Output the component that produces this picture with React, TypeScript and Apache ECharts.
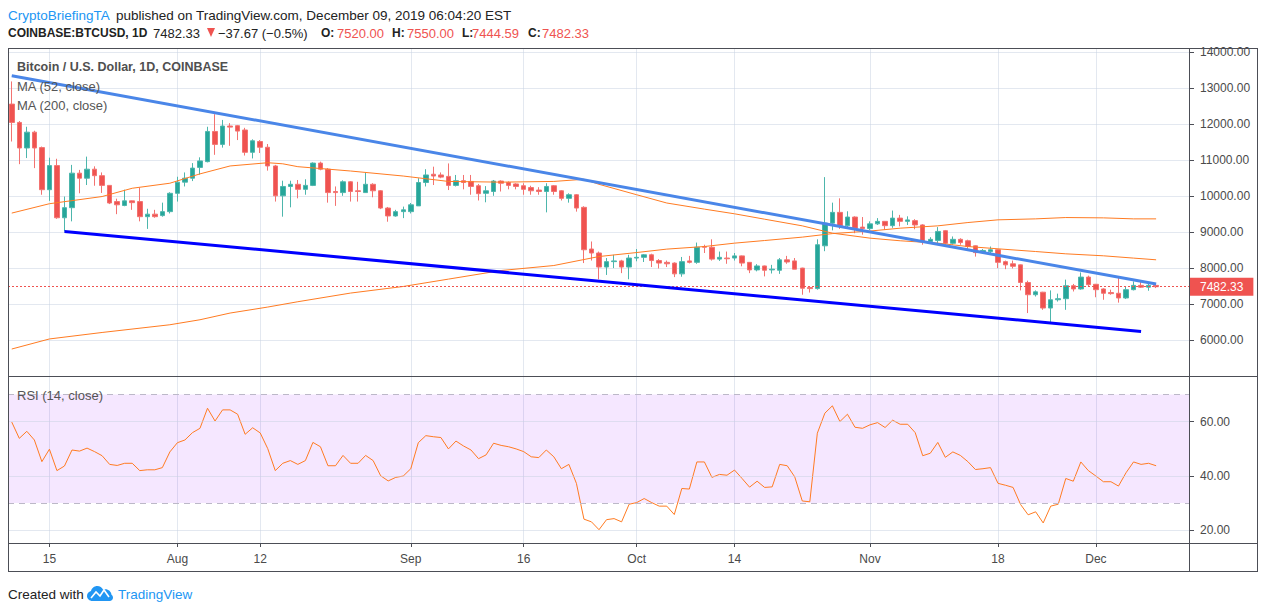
import React, { useEffect, useRef } from 'react';
import * as echarts from 'echarts';

// ---------- categories (daily slots, Jul 10 2019 .. Dec 13 2019; last 4 empty) ----------
const DAY = 86400000;
const START = Date.UTC(2019, 6, 10);
const SLOT_COUNT = 157;
const pad = (n: number) => (n < 10 ? '0' + n : '' + n);
const categories: string[] = Array.from({ length: SLOT_COUNT }, (_, i) => {
  const d = new Date(START + i * DAY);
  return `${d.getUTCFullYear()}-${pad(d.getUTCMonth() + 1)}-${pad(d.getUTCDate())}`;
});

// ---------- time-axis tick labels ----------
const tickDates = ['2019-07-15', '2019-08-01', '2019-08-12', '2019-09-01', '2019-09-16', '2019-10-01', '2019-10-14', '2019-11-01', '2019-11-18', '2019-12-01'];
const tickLabels = ['15', 'Aug', '12', 'Sep', '16', 'Oct', '14', 'Nov', '18', 'Dec'];

// ---------- OHLC ----------
const opens = [
  12560, 12050, 11340, 11780, 11350, 10180, 10850, 9400, 9680, 10640,
  10500, 10750, 10570, 10300, 9850, 9740, 9870, 9850, 9430, 9500,
  9460, 9570, 10080, 10390, 10500, 10800, 10960, 11800, 11440, 11950,
  11960, 11840, 11220, 11520, 11360, 10840, 10010, 10270, 10330, 10190,
  10300, 10920, 10750, 10130, 10100, 10400, 10150, 10100, 10330, 10150,
  9670, 9450, 9570, 9570, 9730, 10380, 10610, 10590, 10550, 10300,
  10430, 10410, 10290, 10080, 10130, 10420, 10380, 10340, 10290, 10240,
  10170, 10130, 10290, 10150, 9940, 10040, 9690, 8530, 8420, 8030,
  8180, 8200, 8030, 8280, 8300, 8370, 8210, 8160, 8140, 7840,
  8200, 8160, 8600, 8580, 8250, 8280, 8280, 8340, 8160, 7950,
  8060, 7950, 7940, 8230, 8200, 8000, 7460, 7430, 8620, 9250,
  9550, 9180, 9420, 9140, 9100, 9230, 9300, 9180, 9390, 9300,
  9320, 9200, 8740, 8770, 9040, 8690, 8800, 8760, 8620, 8430,
  8460, 8510, 8180, 8120, 8090, 7600, 7260, 7330, 6890, 7120,
  7150, 7510, 7420, 7750, 7550, 7420, 7320, 7300, 7170, 7400,
  7520, 7470, 7520,
];
const closes = [
  12050, 11340, 11780, 11340, 10180, 10850, 9400, 9680, 10640, 10500,
  10750, 10570, 10300, 9810, 9760, 9870, 9820, 9430, 9500, 9430,
  9570, 10080, 10390, 10500, 10780, 10980, 11800, 11440, 11950, 11920,
  11810, 11220, 11540, 11360, 10840, 10010, 10270, 10330, 10190, 10300,
  10920, 10750, 10100, 10100, 10400, 10130, 10130, 10330, 10150, 9670,
  9450, 9570, 9620, 9760, 10380, 10590, 10560, 10530, 10300, 10430,
  10380, 10270, 10070, 10150, 10420, 10360, 10300, 10270, 10190, 10150,
  10130, 10270, 10130, 9940, 10040, 9670, 8510, 8420, 8030, 8180,
  8200, 8030, 8280, 8300, 8370, 8210, 8140, 8120, 7840, 8180,
  8160, 8580, 8580, 8250, 8300, 8260, 8340, 8140, 7950, 8060,
  7940, 7970, 8230, 8170, 7970, 7440, 7430, 8650, 9250, 9550,
  9180, 9420, 9110, 9100, 9230, 9300, 9180, 9390, 9300, 9340,
  9200, 8740, 8800, 9020, 8690, 8800, 8710, 8600, 8430, 8490,
  8510, 8160, 8090, 8050, 7600, 7260, 7340, 6890, 7120, 7150,
  7510, 7420, 7750, 7540, 7400, 7300, 7290, 7170, 7400, 7520,
  7470, 7520, 7482.33,
];
const lows = [
  11520, 10890, 11060, 10780, 10040, 9870, 9370, 9020, 9300, 10080,
  10310, 10290, 10090, 9780, 9500, 9720, 9620, 9300, 9090, 9400,
  9430, 9520, 9850, 10270, 10420, 10600, 10940, 11150, 11350, 11400,
  11560, 11130, 11050, 11200, 10710, 9850, 9430, 9690, 9940, 10040,
  10280, 10720, 9820, 9730, 10010, 9850, 9850, 10090, 9970, 9640,
  9290, 9430, 9390, 9520, 9730, 10270, 10310, 10500, 10170, 10270,
  10190, 10040, 9880, 9830, 10010, 10130, 10190, 10190, 10040, 10040,
  10040, 9550, 10040, 9880, 9820, 9570, 8140, 8210, 7690, 7810,
  8000, 7860, 7690, 8190, 8170, 8030, 7990, 8030, 7750, 7760,
  8130, 8120, 8420, 8210, 8200, 8120, 8210, 8050, 7860, 7910,
  7770, 7850, 7840, 8120, 7970, 7260, 7320, 7400, 8470, 9050,
  9090, 9130, 8970, 8930, 9060, 9200, 9070, 9120, 9160, 9200,
  9080, 8650, 8700, 8700, 8610, 8650, 8650, 8530, 8320, 8400,
  8420, 8000, 7970, 7990, 7380, 6750, 7210, 6840, 6490, 7070,
  6840, 7350, 7400, 7490, 7190, 7120, 7260, 7040, 7140, 7380,
  7450, 7370, 7444.59,
];
const highs = [
  13190, 12090, 11930, 11820, 11380, 11070, 11040, 9990, 10870, 10730,
  11100, 10830, 10660, 10310, 9930, 10180, 9880, 10240, 9650, 9620,
  9820, 10110, 10540, 10660, 10920, 11080, 11930, 12280, 12120, 12030,
  11980, 11900, 11580, 11560, 11450, 10870, 10430, 10430, 10450, 10470,
  10940, 10960, 10780, 10270, 10440, 10420, 10400, 10660, 10360, 10170,
  9700, 9620, 9710, 9810, 10500, 10750, 10820, 10660, 10910, 10590,
  10590, 10590, 10340, 10280, 10450, 10440, 10410, 10360, 10360, 10290,
  10250, 10360, 10310, 10170, 10080, 10060, 9720, 8740, 8460, 8280,
  8370, 8230, 8370, 8530, 8390, 8400, 8250, 8210, 8160, 8310,
  8340, 8710, 8650, 8800, 8460, 8460, 8420, 8350, 8170, 8110,
  8070, 8090, 8280, 8340, 8280, 8010, 7490, 8800, 10530, 9820,
  9940, 9580, 9440, 9420, 9300, 9390, 9310, 9600, 9480, 9440,
  9360, 9220, 8860, 9140, 9060, 8880, 8830, 8790, 8630, 8530,
  8600, 8520, 8210, 8210, 8100, 7650, 7380, 7340, 7380, 7290,
  7680, 7560, 7880, 7790, 7560, 7440, 7400, 7770, 7490, 7630,
  7660, 7580, 7550,
];

// ---------- moving averages, read at sample days [dayIndex, value] ----------
const ma52Points = [
  [0, 9530], [5, 9790], [12, 9990], [16, 10220], [21, 10360], [25, 10620], [29, 10840],
  [34, 10930], [36, 10900], [38, 10820], [45, 10700], [52, 10560], [58, 10410], [65, 10390],
  [72, 10410], [76, 10470], [78, 10330], [83, 10040], [87, 9810], [92, 9640], [96, 9510],
  [100, 9360], [105, 9175], [109, 8972], [114, 8833], [118, 8760], [123, 8694], [127, 8600],
  [131, 8536], [136, 8461], [140, 8397], [145, 8342], [149, 8278], [152, 8231],
];
const ma200Points = [
  [0, 5750], [5, 6030], [12, 6210], [21, 6425], [25, 6564], [29, 6750], [34, 6917],
  [38, 7065], [45, 7306], [52, 7489], [58, 7694], [65, 7933], [72, 8072], [78, 8322],
  [83, 8433], [87, 8528], [92, 8600], [96, 8694], [100, 8767], [105, 8861], [109, 8960],
  [114, 9030], [118, 9110], [123, 9175], [127, 9267], [131, 9342], [136, 9369], [140, 9406],
  [145, 9397], [149, 9369], [152, 9369],
];

// ---------- drawn trend lines [dayIndex, price] ----------
const upperTrend = [[0, 13350], [152, 7556]];
const lowerTrend = [[7, 9017], [150, 6239]];

// ---------- RSI(14) ----------
const rsiValues = [
  59.8, 53.8, 56.4, 53.2, 45.2, 49.8, 41.9, 43.6, 49.5, 49.1,
  50.2, 48.9, 47.4, 44.2, 43.8, 44.6, 44.6, 41.9, 42.2, 42.2,
  43.0, 48.8, 52.2, 53.2, 55.9, 57.5, 64.9, 60.2, 64.3, 64.3,
  62.7, 55.3, 57.7, 55.8, 50.0, 41.9, 44.6, 45.6, 44.2, 45.6,
  52.3, 50.7, 43.7, 43.7, 47.5, 44.6, 44.6, 47.5, 45.6, 40.0,
  38.1, 39.4, 39.9, 42.6, 52.2, 54.8, 54.4, 54.1, 49.9, 52.8,
  51.0, 49.5, 46.3, 47.7, 52.0, 51.2, 50.7, 49.9, 48.9, 47.0,
  46.7, 49.5, 47.0, 42.6, 44.2, 37.2, 24.0, 23.0, 20.1, 23.8,
  24.2, 23.0, 29.5, 30.1, 31.6, 30.1, 28.8, 28.8, 25.7, 35.3,
  35.1, 45.1, 45.1, 39.4, 40.5, 40.2, 42.1, 39.0, 35.8, 38.0,
  35.7, 35.9, 44.2, 43.7, 39.6, 30.7, 30.4, 55.7, 63.1, 65.8,
  60.0, 62.7, 57.9, 57.5, 58.8, 59.6, 57.8, 60.5, 59.0, 59.0,
  55.9, 47.4, 48.3, 52.3, 46.8, 48.8, 47.5, 45.2, 42.3, 42.6,
  43.0, 37.2, 36.5, 35.7, 29.4, 25.6, 26.7, 22.6, 28.8, 29.5,
  39.0, 38.0, 45.1, 41.9, 39.9, 37.8, 37.8, 36.2, 41.1, 45.1,
  44.2, 44.6, 43.7,
];
const rsiGridValues = [20, 40, 60];
const rsiBandValues = [30, 70];
const lastPrice = 7482.33;

// ---------- styling ----------
const FONT = '"Liberation Sans", Arial, sans-serif';
const GRID_COLOR = 'rgba(200,210,225,0.5)';
const FRAME = '#4c4e56';
const AXIS_TEXT = '#4a4a4a';
const UP = '#26a69a';
const DOWN = '#ef5350';
const ORANGE = '#ff7b22';

const LOGO_PATH =
  'M5.5 15 C2.5 15 0 12.8 0 10 C0 7.6 1.7 5.6 4 5.1 C4.6 2.2 7.2 0 10.3 0 C12.9 0 15.1 1.5 16.1 3.7 C16.8 3.4 17.6 3.2 18.4 3.2 C21.6 3.2 24.2 5.6 24.5 8.7 C25.4 9.4 26 10.5 26 11.7 C26 13.5 24.5 15 22.6 15 Z';
echarts.graphic.registerShape('tvlogo', echarts.graphic.extendPath(LOGO_PATH, {}));

const tickIndexSet = new Set(tickDates.map((d) => categories.indexOf(d)));
const labelByDate: Record<string, string> = {};
tickDates.forEach((d, i) => (labelByDate[d] = tickLabels[i]));
const isTick = (index: number) => tickIndexSet.has(index);

function txt(x: number, y: number, text: string, extra: any = {}) {
  return {
    type: 'text',
    x,
    y,
    z: 50,
    silent: true,
    style: {
      text,
      fill: '#222222',
      fontSize: 13,
      fontFamily: FONT,
      verticalAlign: 'middle',
      align: 'left',
      ...extra,
    },
  };
}
function hline(y: number, x1: number, x2: number) {
  return { type: 'line', z: 60, silent: true, shape: { x1, y1: y, x2, y2: y }, style: { stroke: FRAME, lineWidth: 1 } };
}
function vline(x: number, y1: number, y2: number) {
  return { type: 'line', z: 60, silent: true, shape: { x1: x, y1, x2: x, y2 }, style: { stroke: FRAME, lineWidth: 1 } };
}

function buildOption() {
  const candleData = opens.map((o, i) => [o, closes[i], lows[i], highs[i]]);
  const rsiMarkLines: any[] = [
    ...rsiBandValues.map((v) => ({
      yAxis: v,
      lineStyle: { color: '#bcb8c8', type: [6, 5], width: 1 },
      label: { show: false },
    })),
    ...rsiGridValues.map((v) => ({
      yAxis: v,
      lineStyle: { color: GRID_COLOR, type: 'solid', width: 1 },
      label: { show: true, formatter: v.toFixed(2) },
    })),
  ];
  const splitLineX = { show: true, interval: isTick, alignWithLabel: true, lineStyle: { color: GRID_COLOR, width: 1 } };

  return {
    animation: false,
    backgroundColor: '#ffffff',
    textStyle: { fontFamily: FONT },
    grid: [
      { left: 8, top: 48, width: 1182, height: 328 },
      { left: 8, top: 376, width: 1182, height: 167 },
    ],
    xAxis: [
      {
        type: 'category',
        gridIndex: 0,
        data: categories,
        boundaryGap: true,
        axisLine: { show: false },
        axisTick: { show: false },
        axisLabel: { show: false },
        splitLine: splitLineX,
      },
      {
        type: 'category',
        gridIndex: 1,
        data: categories,
        boundaryGap: true,
        axisLine: { show: false },
        axisTick: { show: true, interval: isTick, alignWithLabel: true, length: 4, lineStyle: { color: FRAME } },
        axisLabel: {
          show: true,
          interval: isTick,
          formatter: (v: string) => labelByDate[v] || '',
          color: AXIS_TEXT,
          fontSize: 12,
          margin: 10,
          fontFamily: FONT,
        },
        splitLine: splitLineX,
      },
    ],
    yAxis: [
      {
        type: 'value',
        gridIndex: 0,
        position: 'right',
        min: 5000,
        max: 14120,
        interval: 1000,
        axisLine: { show: false },
        axisTick: { show: true, length: 4, lineStyle: { color: FRAME } },
        axisLabel: {
          formatter: (v: number) => v.toFixed(2),
          color: AXIS_TEXT,
          fontSize: 12,
          margin: 10,
          showMaxLabel: false,
          showMinLabel: false,
          fontFamily: FONT,
        },
        splitLine: { show: true, lineStyle: { color: GRID_COLOR, width: 1 } },
      },
      {
        type: 'value',
        gridIndex: 1,
        position: 'right',
        min: 15.2,
        max: 76.8,
        axisLine: { show: false },
        axisLabel: { show: false },
        axisTick: { show: true, customValues: rsiGridValues, length: 4, lineStyle: { color: FRAME } },
        splitLine: { show: false },
      },
    ],
    series: [
      {
        name: 'BTCUSD',
        type: 'candlestick',
        xAxisIndex: 0,
        yAxisIndex: 0,
        data: candleData,
        barWidth: 5,
        z: 3,
        itemStyle: {
          color: UP,
          color0: DOWN,
          borderColor: '#4db6ac',
          borderColor0: '#f37371',
          borderWidth: 1,
        },
        markLine: {
          silent: true,
          symbol: ['none', 'none'],
          data: [{ yAxis: lastPrice }],
          lineStyle: { color: DOWN, type: [2, 2], width: 1 },
          label: {
            show: true,
            position: 'end',
            distance: 0,
            formatter: lastPrice.toFixed(2),
            color: '#ffffff',
            backgroundColor: DOWN,
            padding: [3, 10, 3, 10],
            fontSize: 12,
            lineHeight: 12,
            fontFamily: FONT,
          },
        },
      },
      {
        name: 'MA (52, close)',
        type: 'line',
        xAxisIndex: 0,
        yAxisIndex: 0,
        data: ma52Points,
        symbol: 'none',
        z: 4,
        lineStyle: { color: ORANGE, width: 1 },
      },
      {
        name: 'MA (200, close)',
        type: 'line',
        xAxisIndex: 0,
        yAxisIndex: 0,
        data: ma200Points,
        symbol: 'none',
        z: 4,
        lineStyle: { color: ORANGE, width: 1 },
      },
      {
        name: 'upper trend',
        type: 'line',
        xAxisIndex: 0,
        yAxisIndex: 0,
        data: upperTrend,
        symbol: 'none',
        z: 5,
        lineStyle: { color: '#4a86e8', width: 3 },
      },
      {
        name: 'lower trend',
        type: 'line',
        xAxisIndex: 0,
        yAxisIndex: 0,
        data: lowerTrend,
        symbol: 'none',
        z: 5,
        lineStyle: { color: '#0000ff', width: 3 },
      },
      {
        name: 'RSI (14, close)',
        type: 'line',
        xAxisIndex: 1,
        yAxisIndex: 1,
        data: rsiValues,
        symbol: 'none',
        z: 4,
        lineStyle: { color: ORANGE, width: 1 },
        markArea: {
          silent: true,
          itemStyle: { color: 'rgba(153,21,255,0.1)' },
          data: [[{ yAxis: rsiBandValues[0] }, { yAxis: rsiBandValues[1] }]],
        },
        markLine: {
          silent: true,
          symbol: ['none', 'none'],
          label: { position: 'end', distance: 10, color: AXIS_TEXT, fontSize: 12, fontFamily: FONT },
          data: rsiMarkLines,
        },
      },
    ],
    graphic: [
      // header line 1
      txt(8, 15, 'CryptoBriefingTA', { fill: '#2196f3', fontSize: 13.5 }),
      txt(116, 15, 'published on TradingView.com, December 09, 2019 06:04:20 EST', { fontSize: 13.5 }),
      // header line 2
      txt(8, 33, 'COINBASE:BTCUSD, 1D', { fontWeight: 'bold', fontSize: 12 }),
      txt(153, 33, '7482.33'),
      { type: 'polygon', z: 50, silent: true, shape: { points: [[207, 28], [215, 28], [211, 37]] }, style: { fill: DOWN } },
      txt(218, 33, '\u221237.67 (\u22120.5%)'),
      txt(321, 33, 'O:', { fontWeight: 'bold', fontSize: 12 }),
      txt(337, 33, '7520.00', { fill: DOWN }),
      txt(392, 33, 'H:', { fontWeight: 'bold', fontSize: 12 }),
      txt(407, 33, '7550.00', { fill: DOWN }),
      txt(462, 33, 'L:', { fontWeight: 'bold', fontSize: 12 }),
      txt(472, 33, '7444.59', { fill: DOWN }),
      txt(528, 33, 'C:', { fontWeight: 'bold', fontSize: 12 }),
      txt(542, 33, '7482.33', { fill: DOWN }),
      // pane legends
      txt(17, 67, 'Bitcoin / U.S. Dollar, 1D, COINBASE', { fill: '#4f4f4f', fontWeight: 'bold', fontSize: 12.5 }),
      txt(17, 86, 'MA (52, close)', { fill: '#555555' }),
      txt(17, 105, 'MA (200, close)', { fill: '#555555' }),
      txt(17, 395, 'RSI (14, close)', { fill: '#555555' }),
      // frame
      hline(48.5, 8, 1258),
      hline(376.5, 8, 1258),
      hline(543.5, 8, 1258),
      hline(571.5, 8, 1258),
      vline(8.5, 48, 572),
      vline(1189.5, 48, 572),
      vline(1257.5, 48, 572),
      // footer
      txt(8, 594, 'Created with', { fontSize: 13.5 }),
      { type: 'tvlogo', x: 87, y: 586, z: 50, silent: true, style: { fill: '#2196f3' } },
      {
        type: 'polyline',
        z: 51,
        silent: true,
        shape: { points: [[91, 598], [96, 592], [100, 596], [104, 590], [109, 597]] },
        style: { stroke: '#ffffff', lineWidth: 1.6, fill: null },
      },
      txt(118, 594, 'TradingView', { fill: '#2196f3', fontSize: 13.5 }),
    ],
  };
}

export default function App() {
  const ref = useRef<HTMLDivElement>(null);
  useEffect(() => {
    if (!ref.current) return;
    const chart = echarts.init(ref.current, null, { renderer: 'svg' });
    chart.setOption(buildOption() as any);
    return () => {
      chart.dispose();
    };
  }, []);
  return (
    <div
      ref={ref}
      style={{ position: 'fixed', left: 0, top: 0, width: 1265, height: 613, background: '#ffffff' }}
    />
  );
}
